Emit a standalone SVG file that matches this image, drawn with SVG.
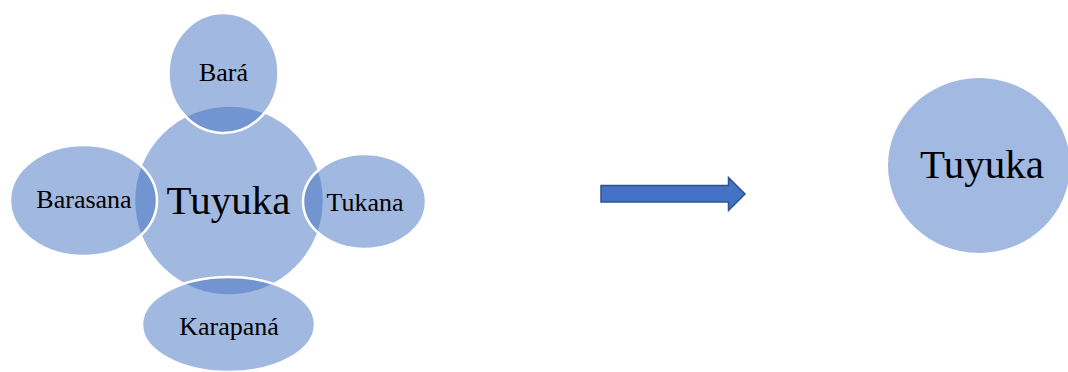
<svg xmlns="http://www.w3.org/2000/svg" width="1068" height="372" viewBox="0 0 1068 372">
  <style>
    .bubble { fill: #4472c4; fill-opacity: 0.5; stroke: #ffffff; stroke-width: 2.5; }
    .solid { fill: #a2b9e2; }
    .lbl { font-family: "Liberation Serif", "Times New Roman", serif; fill: #000000; text-anchor: middle; }
    .small { font-size: 26px; }
    .big { font-size: 41px; }
  </style>

  <!-- Central circle -->
  <g id="tuyuka-center">
    <circle class="bubble" cx="229" cy="200.5" r="95" stroke="none"/>
  </g>

  <!-- Surrounding language groups -->
  <g id="bara">
    <ellipse class="bubble" cx="223.5" cy="73" rx="55" ry="60"/>
    <text class="lbl small" x="223.5" y="81">Bará</text>
  </g>
  <g id="barasana">
    <ellipse class="bubble" cx="83.5" cy="200.5" rx="73.5" ry="55.5"/>
    <text class="lbl small" x="84" y="208">Barasana</text>
  </g>
  <g id="tukana">
    <ellipse class="bubble" cx="364.5" cy="201.5" rx="61.5" ry="47.5"/>
    <text class="lbl small" x="365" y="211">Tukana</text>
  </g>
  <g id="karapana">
    <ellipse class="bubble" cx="228.5" cy="324.5" rx="86.5" ry="47.5"/>
    <text class="lbl small" x="229" y="335">Karapaná</text>
  </g>

  <!-- Central label drawn on top -->
  <g id="tuyuka-center-label">
    <text class="lbl big" x="228.5" y="214">Tuyuka</text>
  </g>

  <!-- Transition arrow -->
  <g id="connectors">
    <path d="M601,185.5 H728.5 V177.5 L745,194 L728.5,210.5 V202 H601 Z" fill="#4472c4" stroke="#2f528f" stroke-width="1.5" stroke-linejoin="miter"/>
  </g>

  <!-- Resulting single group -->
  <g id="tuyuka-result">
    <ellipse class="solid" cx="979" cy="165.5" rx="91" ry="87.5"/>
    <text class="lbl big" x="982" y="178">Tuyuka</text>
  </g>
</svg>
